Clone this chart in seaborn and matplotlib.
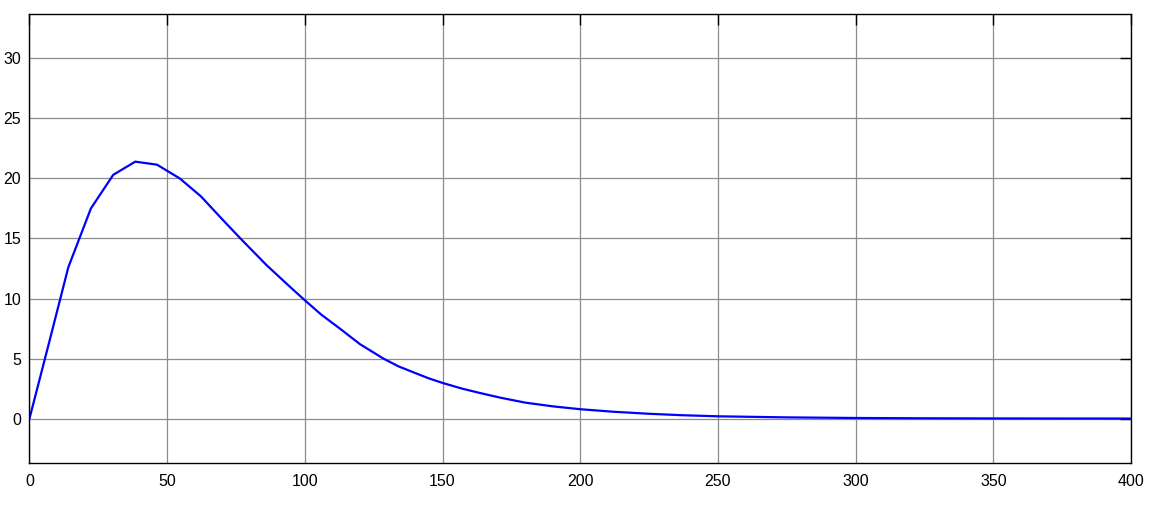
import numpy as np
import pandas as pd
import matplotlib
matplotlib.use("Agg")
import matplotlib.pyplot as plt
import seaborn as sns

# valores
tempo = [0, 7.2, 14.1, 22.3, 30.4, 38.4, 46.3, 54.6, 62.3, 70, 76.4, 86, 94,
         100, 106, 112.7, 120, 128.5, 134, 140, 145, 150, 157, 163.6, 170.8, 180, 190, 200,
         212, 225, 237, 250, 275, 300, 325, 350, 375, 400]
saida = [0, 6.4, 12.6, 17.5, 20.3, 21.4, 21.15, 20.0, 18.5, 16.6, 15.05, 12.8, 11.1,
         9.85, 8.65, 7.5, 6.2, 5.0, 4.35, 3.8, 3.35, 2.97, 2.5, 2.13, 1.75, 1.33, 1.02, 0.78,
         0.57, 0.40, 0.28, 0.19, 0.10, 0.05, 0.025, 0.013, 0.006, 0.003]

df = pd.DataFrame({'t': tempo, 'y': saida})

sns.set_style("white")
plt.rcParams['font.family'] = ['Liberation Sans', 'DejaVu Sans']

fig = plt.figure(figsize=(11.56, 5.28), dpi=100)
ax = fig.add_axes([0.0255, 0.1231, 0.9529, 0.8504])

sns.lineplot(data=df, x='t', y='y', color='#0000ff', linewidth=1.6, ax=ax)

ax.set_xlim(0, 400)
ax.set_ylim(-3.7, 33.7)
ax.set_xticks(np.arange(0, 401, 50))
ax.set_yticks(np.arange(0, 31, 5))
ax.set_xlabel('')
ax.set_ylabel('')
ax.grid(True, color='#8c8c8c', linewidth=0.9)
ax.set_axisbelow(True)
ax.tick_params(direction='in', length=8, width=1, colors='black', labelsize=11.5,
               top=True, right=True)
ax.tick_params(axis='x', pad=8)
ax.tick_params(axis='y', pad=6)
for s in ax.spines.values():
    s.set_visible(True)
    s.set_color('black')
    s.set_linewidth(1)

plt.savefig('out.png', dpi=100)
